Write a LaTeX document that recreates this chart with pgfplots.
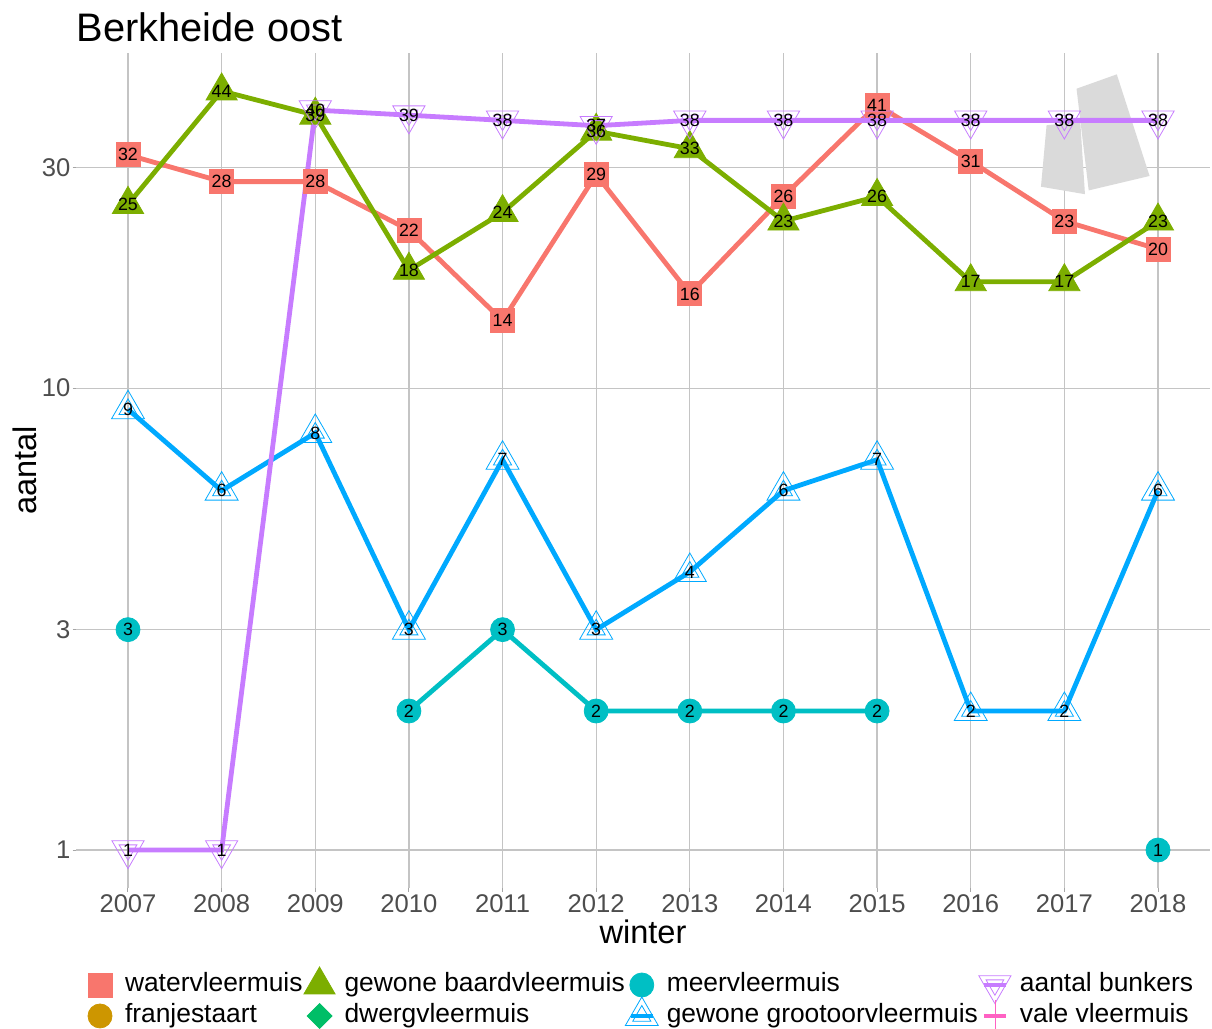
\documentclass[border=0pt]{standalone}
\usepackage{pgfplots}
\pgfplotsset{compat=1.18}
\usepackage{pgfplotstable}
\usepackage{fontspec}
\setmainfont{Liberation Sans}

\definecolor{cwater}{HTML}{F8766D}
\definecolor{cfranje}{HTML}{CD9600}
\definecolor{cbaard}{HTML}{7CAE00}
\definecolor{cdwerg}{HTML}{00BE67}
\definecolor{cmeer}{HTML}{00BFC4}
\definecolor{cgroot}{HTML}{00A9FF}
\definecolor{cbunk}{HTML}{C77CFF}
\definecolor{cvale}{HTML}{FF61C3}
\definecolor{cgrid}{HTML}{C4C4C4}
\definecolor{ctick}{HTML}{4D4D4D}
\definecolor{clogo}{HTML}{DADADA}

\pgfdeclareplotmark{ntri}{%
  \pgfpathmoveto{\pgfqpointpolar{90}{\pgfplotmarksize}}%
  \pgfpathlineto{\pgfqpointpolar{210}{\pgfplotmarksize}}%
  \pgfpathlineto{\pgfqpointpolar{330}{\pgfplotmarksize}}%
  \pgfpathclose
  \pgfpathmoveto{\pgfqpointpolar{90}{0.55\pgfplotmarksize}}%
  \pgfpathlineto{\pgfqpointpolar{210}{0.55\pgfplotmarksize}}%
  \pgfpathlineto{\pgfqpointpolar{330}{0.55\pgfplotmarksize}}%
  \pgfpathclose
  \pgfusepathqstroke}
\pgfdeclareplotmark{ndtri}{%
  \pgfpathmoveto{\pgfqpointpolar{270}{\pgfplotmarksize}}%
  \pgfpathlineto{\pgfqpointpolar{30}{\pgfplotmarksize}}%
  \pgfpathlineto{\pgfqpointpolar{150}{\pgfplotmarksize}}%
  \pgfpathclose
  \pgfpathmoveto{\pgfqpointpolar{270}{0.55\pgfplotmarksize}}%
  \pgfpathlineto{\pgfqpointpolar{30}{0.55\pgfplotmarksize}}%
  \pgfpathlineto{\pgfqpointpolar{150}{0.55\pgfplotmarksize}}%
  \pgfpathclose
  \pgfusepathqstroke}

\pgfplotsset{
  legmark/.style={legend image code/.code={%
     \path[draw=none, fill=none] (0pt,-7.75pt) rectangle (16pt,7.75pt);
     \draw[##1, overlay] plot coordinates {(8pt,0pt)};}},
  legline/.style={legend image code/.code={%
     \path[draw=none, fill=none] (0pt,-7.75pt) rectangle (16pt,7.75pt);
     \draw[##1, overlay] (2.5pt,0pt) -- (13.5pt,0pt);
     \draw[##1, overlay] plot coordinates {(8pt,0pt)};}},
  lab/.style={draw=none, mark=none, forget plot, nodes near coords,
     point meta=explicit symbolic, nodes near coords align={center},
     every node near coord/.append style={font=\fontsize{8.9}{8.9}\selectfont, text=black, inner sep=0pt, anchor=center}},
}

\pgfplotstableread{
year v
2007 32
2008 28
2009 28
2010 22
2011 14
2012 29
2013 16
2014 26
2015 41
2016 31
2017 23
2018 20
}\water
\pgfplotstableread{
year v
2007 25
2008 44
2009 39
2010 18
2011 24
2012 36
2013 33
2014 23
2015 26
2016 17
2017 17
2018 23
}\baard
\pgfplotstableread{
year v
2007 3
2008 nan
2009 nan
2010 2
2011 3
2012 2
2013 2
2014 2
2015 2
2016 nan
2017 nan
2018 1
}\meer
\pgfplotstableread{
year v
2007 9
2008 6
2009 8
2010 3
2011 7
2012 3
2013 4
2014 6
2015 7
2016 2
2017 2
2018 6
}\groot
\pgfplotstableread{
year v
2007 1
2008 1
2009 40
2010 39
2011 38
2012 37
2013 38
2014 38
2015 38
2016 38
2017 38
2018 38
}\bunk

\begin{document}
\begin{tikzpicture}
\path[use as bounding box] (0,0) rectangle (606pt,514.5pt);
\begin{axis}[
  at={(38.25pt,70.5pt)}, anchor=south west,
  scale only axis, width=566.5pt, height=417.5pt,
  xmin=2006.45, xmax=2018.55,
  ymode=log, ymin=0.8275, ymax=53.17,
  unbounded coords=jump,
  xtick={2007,2008,2009,2010,2011,2012,2013,2014,2015,2016,2017,2018},
  xticklabels={2007,2008,2009,2010,2011,2012,2013,2014,2015,2016,2017,2018},
  ytick={1,3,10,30}, yticklabels={1,3,10,30},
  minor ytick={}, minor xtick={},
  grid=major, major grid style={cgrid, line width=0.6pt},
  axis line style={draw=none},
  tick align=outside, tick pos=left, major tick length=2pt,
  tick style={gray!70, line width=0.5pt},
  ticklabel style={font=\fontsize{12.8}{12.8}\selectfont, text=ctick},
  xticklabel style={anchor=north, inner sep=0pt, yshift=-1.3pt},
  yticklabel style={anchor=east, inner sep=0pt, xshift=-0.9pt},
  xlabel={winter}, ylabel={aantal},
  label style={font=\fontsize{16.3}{16.3}\selectfont},
  xlabel style={at={(axis description cs:0.5,-0.06587)}, anchor=base},
  ylabel style={at={(axis description cs:-0.03486,0.5)}, anchor=base},
  title={Berkheide oost},
  title style={at={(axis description cs:0,1.01353)}, anchor=base west, inner sep=0pt, yshift=-6pt, font=\fontsize{19.9}{19.9}\selectfont},
  legend columns=4,
  legend cell align=left,
  legend style={at={(axis description cs:0.00662,-0.0976)}, anchor=north west,
     draw=none, fill=none, inner sep=0pt, outer sep=0pt, row sep=0pt,
     font=\fontsize{13.2}{13.2}\selectfont,
     nodes={inner sep=0pt, text height=9.6pt, text depth=2.8pt},
     /tikz/every odd column/.append style={column sep=4.5pt},
     /tikz/every even column/.append style={column sep=0.5pt}},
]
% logo (grey tiles)
\fill[clogo] (axis cs:2016.81,37.1) -- (axis cs:2017.17,37.7) -- (axis cs:2017.22,26.3) -- (axis cs:2016.75,27.3) -- cycle;
\fill[clogo] (axis cs:2017.13,44.5) -- (axis cs:2017.56,47.8) -- (axis cs:2017.91,28.8) -- (axis cs:2017.26,26.8) -- cycle;

% lines
\addplot[cwater, line width=2.4pt, mark=none, forget plot] table[x=year,y=v] {\water};
\addplot[cbaard, line width=2.4pt, mark=none, forget plot] table[x=year,y=v] {\baard};
\addplot[cmeer, line width=2.4pt, mark=none, forget plot] table[x=year,y=v] {\meer};
\addplot[cgroot, line width=2.4pt, mark=none, forget plot] table[x=year,y=v] {\groot};
\addplot[cbunk, line width=2.4pt, mark=none, forget plot] table[x=year,y=v] {\bunk};

% marks
\addplot[only marks, mark=square*, mark size=6pt, cwater, forget plot] table[x=year,y=v] {\water};
\addplot[only marks, mark=triangle*, mark size=9pt, cbaard, forget plot] table[x=year,y=v] {\baard};
\addplot[only marks, mark=*, mark size=6pt, cmeer, forget plot] table[x=year,y=v] {\meer};
\addplot[only marks, mark=ntri, mark size=9.5pt, cgroot, mark options={line width=0.4pt}, forget plot] table[x=year,y=v] {\groot};
\addplot[only marks, mark=ndtri, mark size=9.3pt, cbunk, mark options={line width=0.4pt}, forget plot] table[x=year,y=v] {\bunk};

% labels
\addplot[lab] table[x=year,y=v,meta=v] {\water};
\addplot[lab] table[x=year,y=v,meta=v] {\baard};
\addplot[lab] table[x=year,y=v,meta=v] {\meer};
\addplot[lab] table[x=year,y=v,meta=v] {\groot};
\addplot[lab] table[x=year,y=v,meta=v] {\bunk};

% legend
\addlegendimage{legmark, only marks, mark=square*, mark size=6pt, cwater}
\addlegendentry{watervleermuis}
\addlegendimage{legmark, only marks, mark=triangle*, mark size=9pt, cbaard}
\addlegendentry{gewone baardvleermuis}
\addlegendimage{legmark, only marks, mark=*, mark size=6pt, cmeer}
\addlegendentry{meervleermuis}
\addlegendimage{legline, cbunk, line width=2pt, mark=ndtri, mark size=9.3pt, mark options={line width=0.4pt}}
\addlegendentry{aantal bunkers}
\addlegendimage{legmark, only marks, mark=*, mark size=6pt, cfranje}
\addlegendentry{franjestaart}
\addlegendimage{legmark, only marks, mark=square*, mark size=4.4pt, mark options={rotate=45}, cdwerg}
\addlegendentry{dwergvleermuis}
\addlegendimage{legline, cgroot, line width=2pt, mark=ntri, mark size=9.5pt, mark options={line width=0.4pt}}
\addlegendentry{gewone grootoorvleermuis}
\addlegendimage{legline, cvale, line width=2pt, mark=|, mark size=8pt, mark options={line width=0.4pt}}
\addlegendentry{vale vleermuis}
\end{axis}
\end{tikzpicture}
\end{document}
